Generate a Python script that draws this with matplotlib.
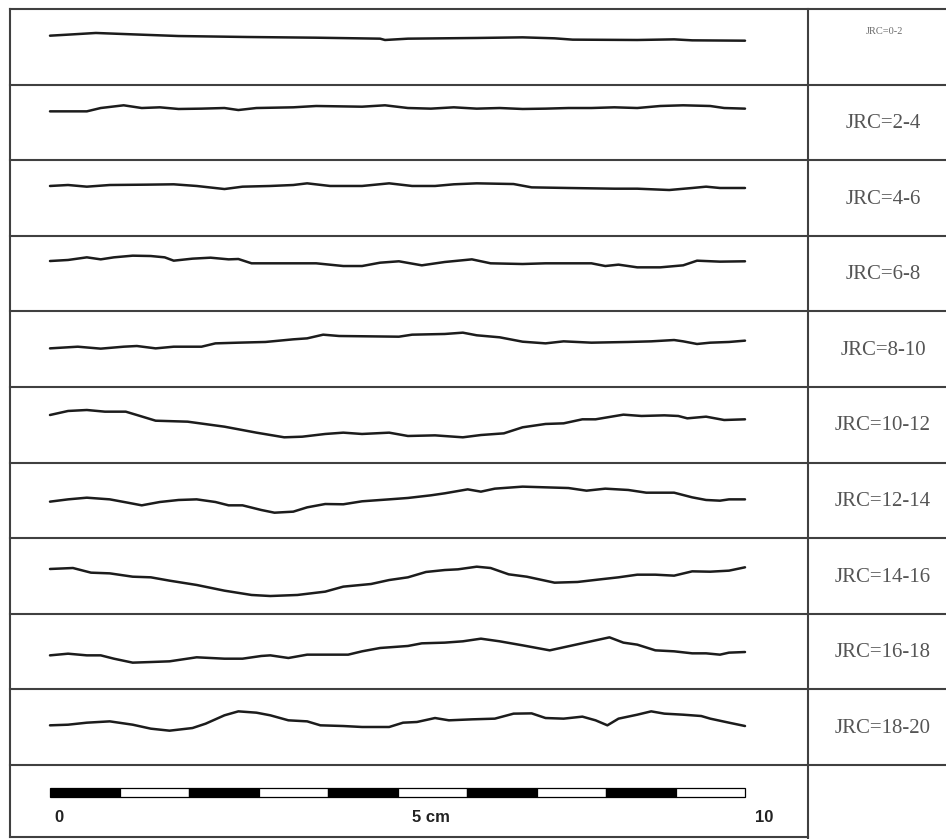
import matplotlib
matplotlib.use("Agg")
import matplotlib.pyplot as plt
from matplotlib.lines import Line2D
from matplotlib.patches import Rectangle

# ---------------- data (x in cm, height in mm relative to row centre) ----------------
labels = ["JRC=0-2", "JRC=2-4", "JRC=4-6", "JRC=6-8", "JRC=8-10",
          "JRC=10-12", "JRC=12-14", "JRC=14-16", "JRC=16-18", "JRC=18-20"]

x1 = [0, 0.26, 0.66, 1.19, 1.85, 2.84, 3.83, 4.75, 4.82, 5.15, 6.14, 6.80, 7.26, 7.52, 8.45, 8.98, 9.24, 10]
h1 = [1.60, 1.75, 1.99, 1.79, 1.55, 1.41, 1.31, 1.17, 0.98, 1.17, 1.27, 1.36, 1.22, 1.03, 0.98, 1.07, 0.93, 0.88]

x2 = [0, 0.53, 0.73, 1.06, 1.32, 1.58, 1.85, 2.18, 2.51, 2.71, 2.97, 3.50, 3.83, 4.49, 4.82, 5.15, 5.48, 5.81,
      6.14, 6.47, 6.80, 7.13, 7.46, 7.79, 8.12, 8.45, 8.78, 9.11, 9.50, 9.70, 10]
h2 = [1.59, 1.59, 2.07, 2.46, 2.07, 2.17, 1.93, 1.98, 2.07, 1.78, 2.07, 2.17, 2.36, 2.26, 2.46, 2.07, 1.98, 2.17,
      1.98, 2.07, 1.93, 1.98, 2.07, 2.07, 2.17, 2.07, 2.36, 2.46, 2.36, 2.07, 1.98]

x3 = [0, 0.26, 0.53, 0.86, 1.39, 1.78, 2.11, 2.51, 2.77, 3.17, 3.50, 3.70, 4.03, 4.49, 4.88, 5.21, 5.54, 5.81,
      6.14, 6.67, 6.93, 7.46, 8.12, 8.45, 8.91, 9.24, 9.44, 9.64, 10]
h3 = [1.73, 1.87, 1.63, 1.87, 1.92, 1.97, 1.73, 1.29, 1.63, 1.73, 1.87, 2.11, 1.73, 1.73, 2.11, 1.73, 1.73, 1.97,
      2.11, 2.01, 1.53, 1.44, 1.34, 1.34, 1.15, 1.44, 1.63, 1.44, 1.44]

x4 = [0, 0.26, 0.53, 0.73, 0.92, 1.19, 1.45, 1.65, 1.78, 2.05, 2.31, 2.57, 2.71, 2.90, 3.30, 3.83, 4.22, 4.49,
      4.75, 5.02, 5.35, 5.68, 6.07, 6.34, 6.80, 7.13, 7.79, 7.99, 8.18, 8.45, 8.78, 9.11, 9.31, 9.64, 10]
h4 = [1.81, 1.96, 2.34, 2.05, 2.34, 2.58, 2.53, 2.34, 1.86, 2.15, 2.29, 2.05, 2.10, 1.48, 1.48, 1.48, 1.09, 1.09,
      1.57, 1.77, 1.19, 1.67, 2.05, 1.48, 1.38, 1.48, 1.48, 1.09, 1.29, 0.90, 0.90, 1.19, 1.86, 1.72, 1.77]

x5 = [0, 0.40, 0.73, 1.06, 1.25, 1.52, 1.78, 2.18, 2.38, 2.71, 3.10, 3.50, 3.70, 3.93, 4.16, 5.02, 5.21, 5.68,
      5.94, 6.14, 6.47, 6.80, 7.13, 7.39, 7.79, 8.32, 8.65, 8.98, 9.11, 9.31, 9.50, 9.77, 10]
h5 = [0.12, 0.36, 0.08, 0.36, 0.46, 0.12, 0.36, 0.36, 0.84, 0.94, 1.04, 1.42, 1.56, 2.09, 1.90, 1.80, 2.09, 2.19,
      2.38, 2.00, 1.71, 1.08, 0.84, 1.13, 0.94, 1.04, 1.13, 1.32, 1.13, 0.75, 0.94, 1.04, 1.23]

x6 = [0, 0.26, 0.53, 0.79, 1.09, 1.25, 1.52, 1.98, 2.51, 2.97, 3.37, 3.63, 3.96, 4.22, 4.49, 4.88, 5.15, 5.54,
      5.94, 6.20, 6.53, 6.80, 7.13, 7.39, 7.66, 7.85, 8.25, 8.51, 8.84, 9.04, 9.17, 9.44, 9.70, 10]
h6 = [1.41, 1.99, 2.13, 1.89, 1.89, 1.41, 0.59, 0.45, -0.27, -1.13, -1.80, -1.71, -1.32, -1.13, -1.32, -1.13, -1.61, -1.52,
      -1.80, -1.47, -1.23, -0.36, 0.12, 0.21, 0.79, 0.79, 1.46, 1.27, 1.36, 1.27, 0.93, 1.17, 0.69, 0.79]

x7 = [0, 0.26, 0.53, 0.86, 1.12, 1.32, 1.58, 1.85, 2.11, 2.38, 2.57, 2.77, 3.04, 3.23, 3.50, 3.70, 3.96, 4.22,
      4.49, 4.88, 5.15, 5.48, 5.68, 6.01, 6.20, 6.40, 6.80, 7.13, 7.46, 7.72, 7.99, 8.32, 8.58, 8.98, 9.24, 9.44,
      9.64, 9.77, 10]
h7 = [-0.18, 0.15, 0.39, 0.15, -0.33, -0.71, -0.23, 0.06, 0.15, -0.23, -0.71, -0.71, -1.38, -1.77, -1.62, -1.00, -0.52, -0.56,
      -0.13, 0.15, 0.35, 0.73, 1.02, 1.59, 1.26, 1.69, 1.98, 1.88, 1.78, 1.40, 1.69, 1.50, 1.11, 1.11, 0.44, 0.06,
      -0.04, 0.15, 0.15]

x8 = [0, 0.33, 0.59, 0.86, 1.19, 1.45, 1.72, 2.11, 2.51, 2.90, 3.17, 3.56, 3.96, 4.22, 4.62, 4.88, 5.15, 5.41,
      5.68, 5.87, 6.14, 6.34, 6.60, 6.86, 7.26, 7.59, 7.92, 8.18, 8.45, 8.71, 8.98, 9.24, 9.50, 9.77, 10]
h8 = [1.01, 1.15, 0.48, 0.38, -0.10, -0.19, -0.67, -1.29, -2.11, -2.73, -2.88, -2.73, -2.25, -1.53, -1.15, -0.58, -0.19, 0.58,
      0.86, 0.96, 1.34, 1.15, 0.24, -0.10, -0.96, -0.86, -0.48, -0.19, 0.19, 0.19, 0.05, 0.67, 0.62, 0.77, 1.25]

x9 = [0, 0.26, 0.53, 0.73, 0.92, 1.19, 1.45, 1.72, 2.11, 2.51, 2.77, 3.04, 3.17, 3.43, 3.70, 3.96, 4.29, 4.49,
      4.75, 5.15, 5.35, 5.68, 5.94, 6.20, 6.47, 6.80, 7.19, 7.52, 7.85, 8.05, 8.25, 8.45, 8.71, 8.98, 9.24, 9.44,
      9.64, 9.77, 10]
h9 = [-0.54, -0.30, -0.54, -0.54, -1.02, -1.59, -1.50, -1.40, -0.82, -1.02, -1.02, -0.63, -0.54, -0.92, -0.44, -0.44, -0.44, 0.04,
      0.52, 0.81, 1.19, 1.29, 1.48, 1.86, 1.48, 0.90, 0.18, 0.90, 1.62, 2.05, 1.29, 1.00, 0.18, 0.04, -0.25, -0.25,
      -0.44, -0.15, -0.06]

x10 = [0, 0.26, 0.53, 0.86, 1.19, 1.45, 1.72, 2.05, 2.24, 2.51, 2.71, 2.97, 3.17, 3.43, 3.70, 3.89, 4.22, 4.49,
       4.88, 5.08, 5.28, 5.54, 5.74, 6.07, 6.40, 6.67, 6.93, 7.13, 7.39, 7.66, 7.85, 8.02, 8.18, 8.45, 8.65, 8.84,
       9.11, 9.37, 9.50, 9.77, 10]
h10 = [0.27, 0.36, 0.65, 0.84, 0.36, -0.21, -0.50, -0.12, 0.51, 1.71, 2.28, 2.09, 1.71, 0.99, 0.84, 0.27, 0.17, 0.03,
       0.03, 0.65, 0.75, 1.32, 0.99, 1.13, 1.23, 1.95, 1.99, 1.32, 1.23, 1.52, 0.99, 0.27, 1.23, 1.80, 2.28, 1.95,
       1.80, 1.61, 1.23, 0.65, 0.17]

profile_x = [x1, x2, x3, x4, x5, x6, x7, x8, x9, x10]
profile_h = [h1, h2, h3, h4, h5, h6, h7, h8, h9, h10]

scale_segments_cm = list(range(11))          # 0 .. 10 cm, 1 cm blocks
scale_label_pos = [0.13, 5.48, 10.27]
scale_label_text = ["0", "5 cm", "10"]

# ---------------- layout ----------------
W, H = 946, 839
fig = plt.figure(figsize=(W / 100, H / 100), dpi=100)
fig.patch.set_facecolor("white")

top, row_h = 9.0, 75.6
left, div, bottom = 10.0, 808.0, 837.0
x0_px, px_per_cm = 50.0, 69.5
px_per_mm = px_per_cm / 10.0
line_col = "#404040"


def fx(px):
    return px / W


def fy(py):
    return 1 - py / H


def hline(y, xa, xb, lw=1.5):
    fig.add_artist(Line2D([fx(xa), fx(xb)], [fy(y), fy(y)], color=line_col, lw=lw,
                          transform=fig.transFigure))


def vline(x, ya, yb, lw=1.5):
    fig.add_artist(Line2D([fx(x), fx(x)], [fy(ya), fy(yb)], color=line_col, lw=lw,
                          transform=fig.transFigure))


xlim = ((left - x0_px) / px_per_cm, (div - x0_px) / px_per_cm)
half = row_h / 2 / px_per_mm

for i in range(10):
    y_top = top + i * row_h
    ax = fig.add_axes([fx(left), fy(y_top + row_h), fx(div - left), row_h / H])
    ax.set_xlim(*xlim)
    ax.set_ylim(-half, half)
    ax.axis("off")
    ax.plot(profile_x[i], profile_h[i], color="#1c1c1c", lw=1.8,
            solid_joinstyle="round", solid_capstyle="round")
    yc = y_top + row_h / 2
    if i == 0:
        fig.text(fx(884), fy(32), labels[i], ha="center", va="center",
                 fontsize=7.5, family="Liberation Serif", color="#6a6a6a")
    else:
        fig.text(fx(883), fy(yc + 1), labels[i], ha="center", va="center",
                 fontsize=15, family="Liberation Serif", color="#555555")

# scale bar row
y_top = top + 10 * row_h
axs = fig.add_axes([fx(left), fy(bottom), fx(div - left), (bottom - y_top) / H])
axs.set_xlim(*xlim)
axs.set_ylim(bottom, y_top)
axs.axis("off")
for k in range(len(scale_segments_cm) - 1):
    a, b = scale_segments_cm[k], scale_segments_cm[k + 1]
    axs.add_patch(Rectangle((a, 788), b - a, 9,
                            facecolor="black" if k % 2 == 0 else "white",
                            edgecolor="black", lw=0.9))
for xp, t in zip(scale_label_pos, scale_label_text):
    axs.text(xp, 817, t, ha="center", va="center", fontsize=12,
             family="Liberation Sans", fontweight="bold", color="#222222")

# table lines
for k in range(11):
    hline(top + k * row_h, left, W)
hline(bottom, left, div)
vline(left, top, bottom)
vline(div, top, H)

fig.savefig("out.png", dpi=100, facecolor="white")
